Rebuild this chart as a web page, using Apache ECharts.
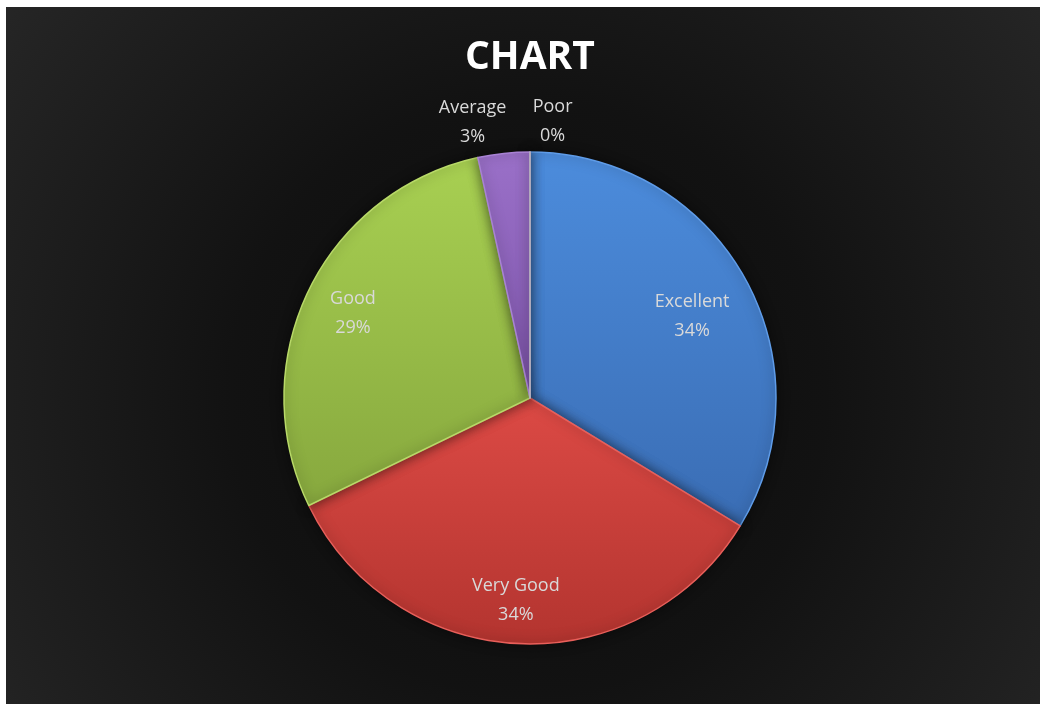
<!DOCTYPE html>
<html>
<head>
<meta charset="utf-8">
<script src="https://cdn.jsdelivr.net/npm/echarts@6/dist/echarts.min.js"></script>
<style>
    body { margin: 0; background: #ffffff; }
    #chart { position: absolute; left: 6px; top: 7px; width: 1034px; height: 697px; }
</style>
</head>
<body>
<div id="chart"></div>
<script>
    // data
    const categories = ['Excellent', 'Very Good', 'Good', 'Average', 'Poor'];
    const values = [33.7, 34.1, 28.8, 3.4, 0];

    // per-slice gradient top -> bottom
    const sliceColors = [
        ['#4c8cdc', '#3a6db4'],
        ['#dc4a45', '#b3342f'],
        ['#a8d052', '#87a83e'],
        ['#9a70c8', '#7e55ab'],
        ['#9a9a9a', '#7a7a7a']
    ];
    const rimColors = ['#5f9ce8', '#e85f5a', '#b8d968', '#a882d4', '#bbbbbb'];

    const total = values.reduce((a, b) => a + b, 0);
    const pct = v => Math.round(v / total * 100) + '%';
    const center = [524, 391];

    const mainData = categories.map((name, i) => ({
        name: name,
        value: values[i],
        itemStyle: {
            color: new echarts.graphic.LinearGradient(0, 0, 0, 1, [
                {offset: 0, color: sliceColors[i][0]},
                {offset: 1, color: sliceColors[i][1]}
            ]),
            borderColor: rimColors[i],
            borderWidth: 1.5
        }
    }));

    const labelText = {color: '#d9d9d9', fontSize: 18, fontFamily: 'Open Sans', lineHeight: 29};

    // transparent rings that only carry the labels (a zero slice gets a hair of width so its label is placed)
    function labelRing(radius, show, shifts) {
        return {
            type: 'pie',
            silent: true,
            center: center,
            radius: radius,
            startAngle: 90,
            clockwise: true,
            avoidLabelOverlap: false,
            minShowLabelAngle: 0,
            emphasis: {disabled: true},
            itemStyle: {color: 'transparent', borderWidth: 0},
            labelLine: {show: false},
            labelLayout: p => Object.assign({hideOverlap: false}, shifts[categories[p.dataIndex]] || {}),
            data: categories.map((name, i) => ({
                name: name,
                value: Math.max(values[i], 0.05),
                label: show.indexOf(name) >= 0 ? Object.assign({
                    show: true,
                    position: 'inside',
                    formatter: p => name + '\n' + pct(values[i])
                }, labelText) : {show: false}
            }))
        };
    }

    const option = {
        backgroundColor: new echarts.graphic.RadialGradient(0.505, 0.56, 0.95, [
            {offset: 0, color: '#0b0b0b'},
            {offset: 0.45, color: '#121212'},
            {offset: 1, color: '#262626'}
        ]),
        title: {
            text: 'CHART',
            left: 454,
            top: 26,
            textStyle: {color: '#ffffff', fontSize: 39, fontWeight: 'bold', fontFamily: 'Open Sans'}
        },
        series: [
            {
                type: 'pie',
                silent: true,
                center: center,
                radius: [0, 246],
                startAngle: 90,
                clockwise: true,
                label: {show: false},
                labelLine: {show: false},
                itemStyle: {shadowBlur: 12, shadowColor: 'rgba(0,0,0,0.5)'},
                data: mainData
            },
            labelRing([120, 246], ['Excellent'], {Excellent: {dy: 10}}),
            labelRing([150, 246], ['Very Good', 'Good'], {'Very Good': {dx: -5, dy: 2}, Good: {dx: 4, dy: 3}}),
            labelRing([259, 289], ['Average', 'Poor'], {Average: {dx: -27}, Poor: {dx: 23}})
        ]
    };

    const chart = echarts.init(document.getElementById('chart'));
    chart.setOption(option);
</script>
</body>
</html>
